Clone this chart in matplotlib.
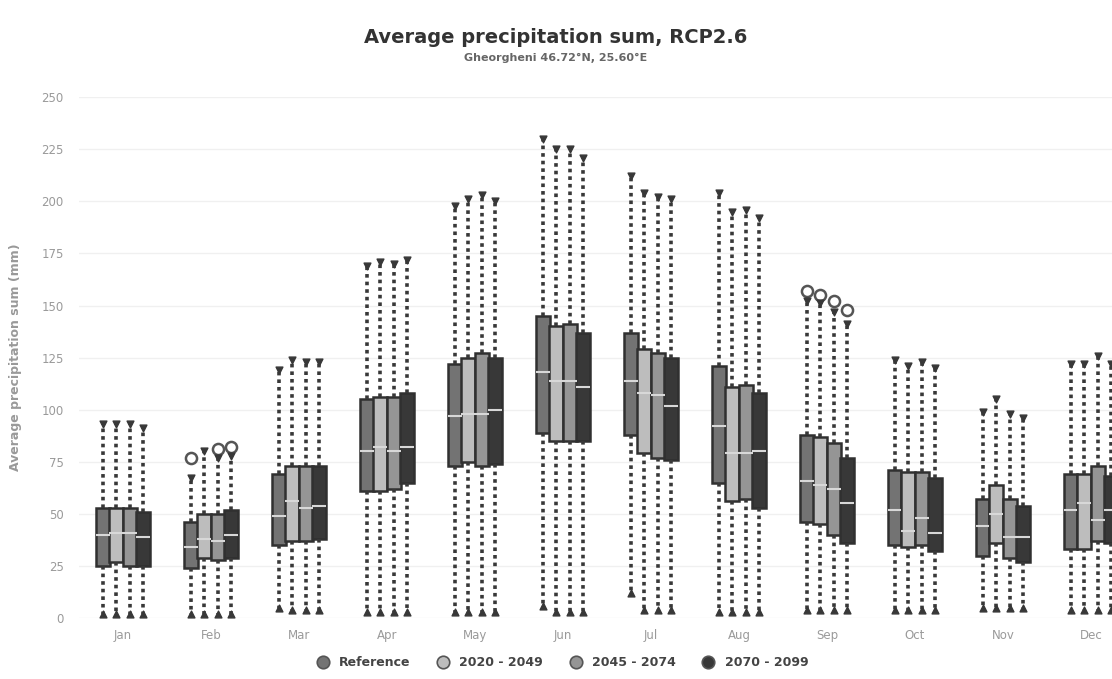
import numpy as np
import matplotlib
matplotlib.use("Agg")
import matplotlib.pyplot as plt
from matplotlib.lines import Line2D

# 月份与情景
months = ["Jan", "Feb", "Mar", "Apr", "May", "Jun", "Jul", "Aug", "Sep", "Oct", "Nov", "Dec"]
series = ["Reference", "2020 - 2049", "2045 - 2074", "2070 - 2099"]
fills = ["#737373", "#bdbdbd", "#959595", "#383838"]

# 每个情景的箱线统计 (mm)，按月份
ref_whishi = [93, 67, 119, 169, 198, 230, 212, 204, 152, 124, 99, 122]
ref_q3 = [53, 46, 69, 105, 122, 145, 137, 121, 88, 71, 57, 69]
ref_med = [40, 34, 49, 80, 97, 118, 114, 92, 66, 52, 44, 52]
ref_q1 = [25, 24, 35, 61, 73, 89, 88, 65, 46, 35, 30, 33]
ref_whislo = [2, 2, 5, 3, 3, 6, 12, 3, 4, 4, 5, 4]

f1_whishi = [93, 80, 124, 171, 201, 225, 204, 195, 151, 121, 105, 122]
f1_q3 = [53, 50, 73, 106, 125, 140, 129, 111, 87, 70, 64, 69]
f1_med = [41, 38, 56, 82, 98, 114, 108, 79, 64, 42, 50, 55]
f1_q1 = [27, 29, 37, 61, 75, 85, 79, 56, 45, 34, 36, 33]
f1_whislo = [2, 2, 4, 3, 3, 3, 4, 3, 4, 4, 5, 4]

f2_whishi = [93, 77, 123, 170, 203, 225, 202, 196, 147, 123, 98, 126]
f2_q3 = [53, 50, 73, 106, 127, 141, 127, 112, 84, 70, 57, 73]
f2_med = [41, 37, 53, 80, 98, 114, 107, 79, 62, 48, 39, 47]
f2_q1 = [25, 28, 37, 62, 73, 85, 77, 57, 40, 35, 29, 37]
f2_whislo = [2, 2, 4, 3, 3, 3, 4, 3, 4, 4, 5, 4]

f3_whishi = [91, 78, 123, 172, 200, 221, 201, 192, 141, 120, 96, 122]
f3_q3 = [51, 52, 73, 108, 125, 137, 125, 108, 77, 67, 54, 68]
f3_med = [39, 40, 54, 82, 100, 111, 102, 80, 55, 41, 39, 52]
f3_q1 = [25, 29, 38, 65, 74, 85, 76, 53, 36, 32, 27, 36]
f3_whislo = [2, 2, 4, 3, 3, 3, 4, 3, 4, 4, 5, 4]

# 离群点: (序列索引, 月份索引, 数值)
outliers = [(0, 1, 77), (2, 1, 81), (3, 1, 82),
            (0, 8, 157), (1, 8, 155), (2, 8, 152), (3, 8, 148)]

stats_all = [
    (ref_whislo, ref_q1, ref_med, ref_q3, ref_whishi),
    (f1_whislo, f1_q1, f1_med, f1_q3, f1_whishi),
    (f2_whislo, f2_q1, f2_med, f2_q3, f2_whishi),
    (f3_whislo, f3_q1, f3_med, f3_q3, f3_whishi),
]

fig = plt.figure(figsize=(11.12, 6.79), dpi=100)
ax = fig.add_axes([0.071, 0.0898, 0.9496, 0.767])

offsets = [-0.23, -0.077, 0.077, 0.23]
wcol = "#383838"

for s, (lo, q1, med, q3, hi) in enumerate(stats_all):
    bstats = []
    for m in range(len(months)):
        fl = [v for (si, mi, v) in outliers if si == s and mi == m]
        bstats.append(dict(whislo=lo[m], q1=q1[m], med=med[m], q3=q3[m],
                           whishi=hi[m], fliers=fl))
    pos = np.arange(len(months)) + offsets[s]
    ax.bxp(bstats, positions=pos, widths=0.155, patch_artist=True,
           showcaps=False,
           boxprops=dict(facecolor=fills[s], edgecolor="#303030", linewidth=1.8),
           medianprops=dict(color="#d8d8d8", linewidth=1.5),
           whiskerprops=dict(color=wcol, linewidth=2.6, linestyle=(0, (1, 1.1))),
           flierprops=dict(marker="o", markersize=8, markerfacecolor="white",
                           markeredgecolor="#555555", markeredgewidth=1.8),
           zorder=3)
    # 须线端点
    ax.scatter(pos, hi, marker="v", s=24, color=wcol, zorder=4)
    ax.scatter(pos, lo, marker="^", s=24, color=wcol, zorder=4)

ax.set_xlim(-0.5, 11.5)
ax.set_ylim(0, 250)
ax.set_yticks(np.arange(0, 251, 25))
ax.set_xticks(np.arange(len(months)))
ax.set_xticklabels(months)
ax.tick_params(axis="both", length=0, colors="#9a9a9a", labelsize=8.5)
ax.tick_params(axis="y", pad=11)
ax.tick_params(axis="x", pad=8)
ax.grid(axis="y", color="#f0f0f0", linewidth=1)
ax.set_axisbelow(True)
for sp in ax.spines.values():
    sp.set_visible(False)

ax.set_ylabel("Average precipitation sum (mm)", color="#999999", fontsize=9,
              fontweight="bold", labelpad=14)

fig.text(0.5, 0.945, "Average precipitation sum, RCP2.6", ha="center", va="center",
         fontsize=14, fontweight="bold", color="#333333")
fig.text(0.5, 0.915, "Gheorgheni 46.72°N, 25.60°E", ha="center", va="center",
         fontsize=8, fontweight="bold", color="#666666")

handles = [Line2D([], [], linestyle="none", marker="o", markersize=9,
                  markerfacecolor=c, markeredgecolor="#555555", markeredgewidth=1.2)
           for c in fills]
fig.legend(handles, series, loc="center", bbox_to_anchor=(0.503, 0.024), ncol=4,
           frameon=False, prop=dict(weight="bold", size=9), handletextpad=0.3,
           columnspacing=1.6)
for t in fig.legends[0].get_texts():
    t.set_color("#444444")

fig.savefig("out.png", dpi=100)
